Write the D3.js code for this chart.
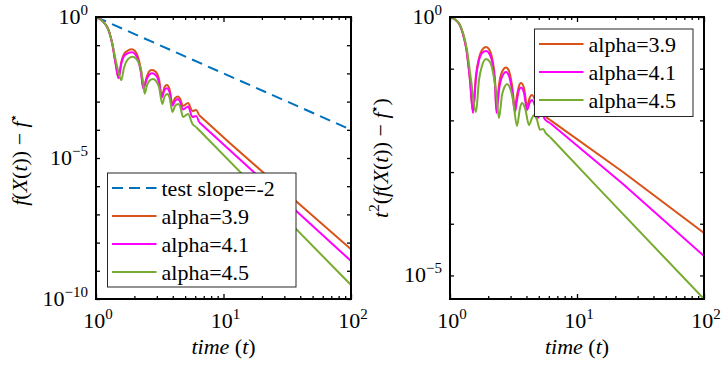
<!DOCTYPE html>
<html>
<head>
<meta charset="utf-8">
<script src="https://cdn.jsdelivr.net/npm/d3@7"></script>
<style>
  body { margin: 0; background: #fff; }
</style>
</head>
<body>
<script>
// ---- data, [time, value] ----
const slopeLine = [[1, 1], [100, 1e-4]];

// left panel: f(X(t)) - f*
const gap39 = [[1,1],[1.226,0.431],[1.342,0.11],[1.427,0.0216],[1.502,0.00687],[1.579,0.0254],[1.658,0.0488],
  [1.782,0.0649],[1.905,0.0716],[2.023,0.0623],[2.135,0.0382],[2.254,0.0132],[2.35,0.00304],[2.512,0.00809],
  [2.628,0.0122],[2.75,0.0132],[2.955,0.0112],[3.12,0.00633],[3.28,0.00146],[3.446,0.0033],[3.6,0.00388],
  [3.771,0.0028],[3.98,0.00082],[4.166,0.00132],[4.4,0.00152],[4.559,0.00128],[4.81,0.000698],[5.27,0.00089],
  [5.71,0.000464],[6.09,0.000504],[6.42,0.000335],[11.25,3.32e-5],[100,5.78e-9]];
const gap41 = [[1,1],[1.226,0.431],[1.342,0.11],[1.427,0.0216],[1.502,0.0068],[1.579,0.022],[1.658,0.041],
  [1.782,0.052],[1.905,0.056],[2.023,0.049],[2.135,0.03],[2.254,0.0105],[2.35,0.0029],[2.512,0.0066],
  [2.628,0.0092],[2.75,0.0101],[2.955,0.0085],[3.12,0.0049],[3.28,0.0014],[3.446,0.0026],[3.6,0.003],
  [3.771,0.0022],[3.98,0.00072],[4.166,0.00105],[4.4,0.00124],[4.559,0.001],[4.81,0.000525],[5.27,0.00067],
  [5.71,0.000284],[6.09,0.000309],[6.42,0.000189],[100,2.23e-9]];
const gap45 = [[1,1],[1.226,0.431],[1.342,0.115],[1.427,0.03],[1.502,0.011],[1.579,0.0058],[1.658,0.016],
  [1.782,0.032],[1.926,0.0391],[2.023,0.036],[2.135,0.027],[2.254,0.0135],[2.35,0.0043],[2.41,0.0019],
  [2.512,0.0038],[2.628,0.0055],[2.8,0.0063],[2.955,0.0054],[3.12,0.0033],[3.31,0.00082],[3.446,0.0015],
  [3.62,0.00186],[3.771,0.0014],[3.98,0.00043],[4.166,0.00069],[4.4,0.00082],[4.559,0.0007],[4.81,0.000284],
  [5.27,0.000363],[5.71,0.000161],[6.09,0.000126],[100,3.13e-10]];

// right panel: t^2 (f(X(t)) - f*)
const scaled39 = [[1,1],[1.156,0.8],[1.266,0.469],[1.349,0.23],[1.437,0.0604],[1.518,0.0145],[1.602,0.0755],
  [1.692,0.161],[1.786,0.23],[1.921,0.263],[2.065,0.22],[2.181,0.129],[2.262,0.0604],[2.323,0.0159],[2.431,0.0484],
  [2.567,0.0863],[2.76,0.1055],[2.914,0.0903],[3.077,0.0484],[3.249,0.0182],[3.37,0.031],[3.494,0.0463],
  [3.623,0.0529],[3.826,0.0423],[4.04,0.019],[4.265,0.0284],[4.42,0.031],[4.67,0.0248],[4.931,0.0159],
  [5.21,0.0217],[5.598,0.0127],[6.131,0.0102],[23.02,0.001],[100,6.64e-5]];
const scaled41 = [[1,1],[1.156,0.8],[1.266,0.469],[1.349,0.23],[1.437,0.0604],[1.518,0.0139],[1.602,0.0661],
  [1.692,0.147],[1.786,0.201],[1.921,0.22],[2.065,0.184],[2.181,0.113],[2.262,0.0484],[2.323,0.0139],[2.431,0.0387],
  [2.567,0.0691],[2.76,0.0863],[2.914,0.0722],[3.077,0.0387],[3.249,0.0145],[3.37,0.0248],[3.494,0.0387],
  [3.623,0.0433],[3.826,0.0339],[4.04,0.0159],[4.265,0.0227],[4.42,0.0248],[4.67,0.019],[4.931,0.0111],
  [5.21,0.0145],[5.598,0.0104],[6.131,0.00891],[23.02,5.89e-4],[100,2.38e-5]];
const scaled45 = [[1,1],[1.156,0.8],[1.266,0.49],[1.361,0.23],[1.464,0.0604],[1.602,0.0145],[1.692,0.0604],
  [1.786,0.113],[1.921,0.154],[2.065,0.135],[2.221,0.0661],[2.323,0.031],[2.431,0.0111],[2.567,0.031],
  [2.686,0.0443],[2.811,0.0506],[2.968,0.0423],[3.134,0.0248],[3.37,0.0078],[3.558,0.0174],[3.689,0.0217],
  [3.896,0.0174],[4.19,0.00815],[4.42,0.0111],[4.584,0.0127],[4.842,0.0102],[5.113,0.0066],[5.399,0.0068],
  [5.7,0.0056],[6.131,0.00478],[15.18,4.51e-4],[100,3.5e-6]];

const seriesNames = ["alpha=3.9", "alpha=4.1", "alpha=4.5"];
const slopeName = "test slope=-2";
const xTickExp = [0, 1, 2];
const yTickExpLeft = [0, -5, -10];
const yTickExpRight = [0, -5];

const Colors = ["#D95319", "#FF00FF", "#77AC30"];
const SlopeColor = "#0072BD";
const Font = "'Liberation Serif', 'DejaVu Serif', 'Noto Serif', 'Nimbus Roman', 'FreeSerif', 'Times New Roman', serif";
const Top = 17, Bottom = 299;

var svg = d3.select("body").append("svg")
    .attr("width", 727)
    .attr("height", 365)
    .attr("font-family", Font)
    .style("font-family", Font);

function addText(g) {
  return g.append("text").attr("font-family", Font).style("font-family", Font).attr("fill", "#000");
}

// superscript power-of-ten label
function powLabel(g, x, y, exp, anchor) {
  const t = addText(g)
      .attr("x", x).attr("y", y)
      .attr("text-anchor", anchor)
      .style("font-size", "22px");
  t.append("tspan").text("10");
  t.append("tspan").attr("dy", -9).style("font-size", "15px")
      .text(exp < 0 ? "\u2212" + (-exp) : exp);
}

// split a series where the sampled points get sparse (straight tail)
function splitTail(s) {
  let k = s.length - 1;
  for (let i = 0; i < s.length - 1; i++) {
    if (s[i + 1][0] - s[i][0] > 1.5) { k = i; break; }
  }
  return [s.slice(0, k + 1), s.slice(k)];
}

function drawPanel(id, x0, x1, yDomain, lines, slope, yExpLabels) {
  const x = d3.scaleLog().domain([1, 100]).range([x0, x1]);
  const y = d3.scaleLog().domain(yDomain).range([Bottom, Top]);
  const g = svg.append("g");

  g.append("clipPath").attr("id", "clip" + id)
    .append("rect").attr("x", x0).attr("y", Top)
    .attr("width", x1 - x0).attr("height", Bottom - Top);

  const smooth = d3.line().curve(d3.curveMonotoneX).x(d => x(d[0])).y(d => y(d[1]));
  const straight = d3.line().x(d => x(d[0])).y(d => y(d[1]));

  const plot = g.append("g").attr("clip-path", "url(#clip" + id + ")");
  if (slope) {
    plot.append("path").datum(slope)
      .attr("d", straight)
      .attr("fill", "none").attr("stroke", SlopeColor)
      .attr("stroke-width", 2).attr("stroke-dasharray", "11,6.5");
  }
  lines.forEach((s, i) => {
    const parts = splitTail(s);
    plot.append("path").datum(parts[0])
      .attr("d", smooth)
      .attr("fill", "none").attr("stroke", Colors[i])
      .attr("stroke-width", 2).attr("stroke-linejoin", "round");
    plot.append("path").datum(parts[1])
      .attr("d", straight)
      .attr("fill", "none").attr("stroke", Colors[i])
      .attr("stroke-width", 2).attr("stroke-linejoin", "round");
  });

  // ticks, pointing inward on all four sides
  const decadeX = v => Math.abs(Math.log10(v) - Math.round(Math.log10(v))) < 1e-9;
  const xt = x.ticks();
  const yt = d3.range(Math.ceil(Math.log10(yDomain[0])), 1).map(e => Math.pow(10, e));

  const axes = [
    g.append("g").attr("transform", "translate(0," + Bottom + ")")
      .call(d3.axisBottom(x).tickValues(xt).tickSize(-3).tickFormat("")),
    g.append("g").attr("transform", "translate(0," + Top + ")")
      .call(d3.axisTop(x).tickValues(xt).tickSize(-3).tickFormat("")),
    g.append("g").attr("transform", "translate(" + x0 + ",0)")
      .call(d3.axisLeft(y).tickValues(yt).tickSize(-4).tickFormat("")),
    g.append("g").attr("transform", "translate(" + x1 + ",0)")
      .call(d3.axisRight(y).tickValues(yt).tickSize(-4).tickFormat(""))
  ];
  axes.forEach(a => {
    a.select(".domain").remove();
    a.selectAll("line").attr("stroke", "#000").attr("stroke-width", 1.3);
  });
  axes[0].selectAll(".tick").filter(d => decadeX(d)).select("line").attr("y2", -5);
  axes[1].selectAll(".tick").filter(d => decadeX(d)).select("line").attr("y2", 5);

  g.append("rect")
    .attr("x", x0).attr("y", Top)
    .attr("width", x1 - x0).attr("height", Bottom - Top)
    .attr("fill", "none").attr("stroke", "#000").attr("stroke-width", 2);

  xTickExp.forEach(e => powLabel(g, x(Math.pow(10, e)) + 2, 328, e, "middle"));
  yExpLabels.forEach(e => powLabel(g, x0 - 8, y(Math.pow(10, e)) + 7, e, "end"));

  // x label: time (t)
  const xl = addText(g)
      .attr("x", (x0 + x1) / 2).attr("y", 354)
      .attr("text-anchor", "middle")
      .style("font-size", "22px");
  xl.append("tspan").style("font-style", "italic").text("time");
  xl.append("tspan").text(" (");
  xl.append("tspan").style("font-style", "italic").text("t");
  xl.append("tspan").text(")");

  return { x: x, y: y, g: g };
}

function drawLegend(g, bx, by, bw, bh, rows) {
  g.append("rect")
    .attr("x", bx).attr("y", by).attr("width", bw).attr("height", bh)
    .attr("fill", "#fff").attr("stroke", "#262626").attr("stroke-width", 1);
  rows.forEach((r, i) => {
    const ry = by + 15 + i * 28;
    g.append("line")
      .attr("x1", bx + 4.5).attr("x2", bx + 49).attr("y1", ry).attr("y2", ry)
      .attr("stroke", r.color).attr("stroke-width", 2)
      .attr("stroke-dasharray", r.dash ? "11,6" : null);
    addText(g)
      .attr("x", bx + 54).attr("y", ry).attr("dy", "0.35em")
      .style("font-size", "22px")
      .text(r.name);
  });
}

// ---- left panel ----
const left = drawPanel("L", 96, 351, [1e-10, 1], [gap39, gap41, gap45], slopeLine, yTickExpLeft);
drawLegend(left.g, 107.5, 173, 188.5, 114,
  [{ name: slopeName, color: SlopeColor, dash: true }]
    .concat(seriesNames.map((n, i) => ({ name: n, color: Colors[i] }))));

const ylL = addText(left.g)
    .attr("transform", "translate(27,160) rotate(-90)")
    .attr("text-anchor", "middle")
    .style("font-size", "22px");
ylL.append("tspan").style("font-style", "italic").text("f");
ylL.append("tspan").text("(");
ylL.append("tspan").style("font-style", "italic").text("X");
ylL.append("tspan").text("(");
ylL.append("tspan").style("font-style", "italic").text("t");
ylL.append("tspan").text(")) \u2212 ");
ylL.append("tspan").style("font-style", "italic").text("f");
ylL.append("tspan").attr("dy", -9).style("font-size", "15px").text("\u22C6");

// ---- right panel ----
const right = drawPanel("R", 450, 704, [3.5e-6, 1], [scaled39, scaled41, scaled45], null, yTickExpRight);
drawLegend(right.g, 534.5, 29, 158.5, 87.5,
  seriesNames.map((n, i) => ({ name: n, color: Colors[i] })));

const ylR = addText(right.g)
    .attr("transform", "translate(388,158) rotate(-90)")
    .attr("text-anchor", "middle")
    .style("font-size", "22px");
ylR.append("tspan").style("font-style", "italic").text("t");
ylR.append("tspan").attr("dy", -9).style("font-size", "15px").text("2");
ylR.append("tspan").attr("dy", 9).text("(");
ylR.append("tspan").style("font-style", "italic").text("f");
ylR.append("tspan").text("(");
ylR.append("tspan").style("font-style", "italic").text("X");
ylR.append("tspan").text("(");
ylR.append("tspan").style("font-style", "italic").text("t");
ylR.append("tspan").text(")) \u2212 ");
ylR.append("tspan").style("font-style", "italic").text("f");
ylR.append("tspan").attr("dy", -9).style("font-size", "15px").text("\u22C6");
ylR.append("tspan").attr("dy", 9).text(")");
</script>
</body>
</html>
